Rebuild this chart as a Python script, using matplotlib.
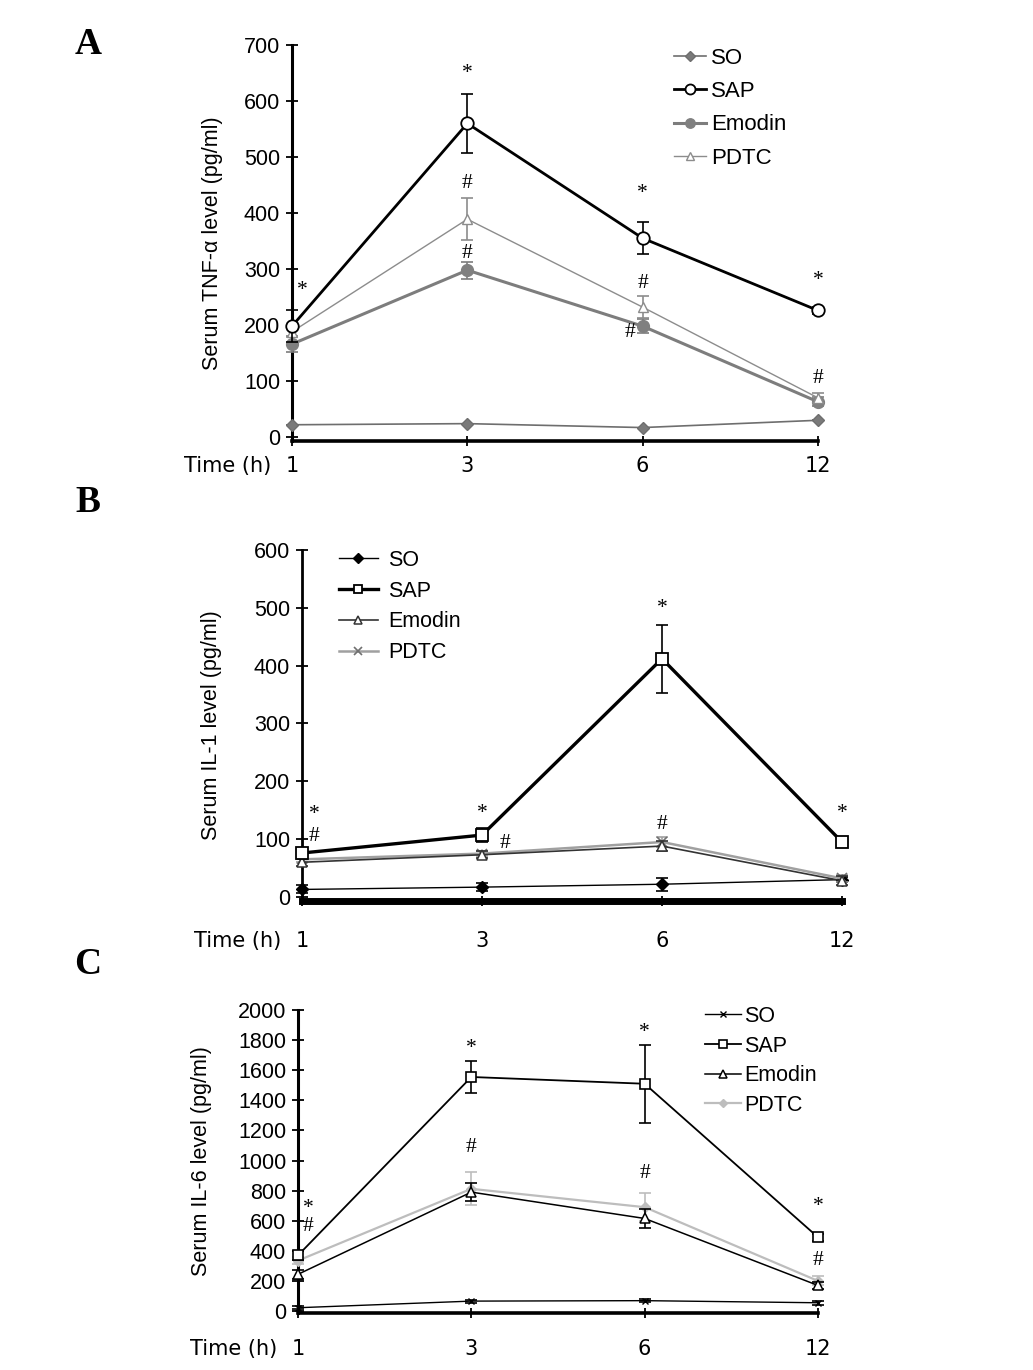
import matplotlib
matplotlib.use("Agg")
import matplotlib.pyplot as plt
from matplotlib.lines import Line2D
import numpy as np

# ---------------- data ----------------
time_labels = ["1", "3", "6", "12"]
series_names = ["SO", "SAP", "Emodin", "PDTC"]

# Panel A: TNF-alpha
tnf_so = [22, 24, 17, 30]
tnf_so_err = [0, 0, 0, 0]
tnf_sap = [198, 560, 355, 226]
tnf_sap_err = [28, 53, 29, 6]
tnf_emodin = [166, 298, 198, 63]
tnf_emodin_err = [14, 15, 12, 8]
tnf_pdtc = [188, 389, 232, 70]
tnf_pdtc_err = [10, 37, 20, 9]

# Panel B: IL-1
il1_so = [13, 17, 22, 30]
il1_so_err = [7, 7, 11, 5]
il1_sap = [76, 107, 412, 95]
il1_sap_err = [5, 12, 59, 4]
il1_emodin = [60, 73, 88, 28]
il1_emodin_err = [6, 6, 8, 8]
il1_pdtc = [65, 75, 95, 32]
il1_pdtc_err = [5, 5, 8, 6]

# Panel C: IL-6
il6_so = [22, 66, 69, 55]
il6_so_err = [10, 10, 12, 12]
il6_sap = [370, 1555, 1510, 490]
il6_sap_err = [30, 105, 260, 25]
il6_emodin = [244, 790, 615, 170]
il6_emodin_err = [30, 60, 65, 25]
il6_pdtc = [335, 812, 690, 200]
il6_pdtc_err = [25, 110, 95, 30]

# significance marks: (x index, y value, text)
tnf_marks = [(0.06, 262, "*"), (1, 650, "*"), (1, 453, "#"), (1, 328, "#"),
             (2, 435, "*"), (2, 275, "#"), (1.925, 186, "#"), (3, 280, "*"), (3, 104, "#")]
il1_marks = [(0.067, 142, "*"), (0.067, 105, "#"), (1, 144, "*"), (1.13, 93, "#"),
             (2, 498, "*"), (2, 125, "#"), (3, 145, "*")]
il6_marks = [(0.06, 680, "*"), (0.06, 561, "#"), (1, 1742, "*"), (1, 1089, "#"),
             (2, 1848, "*"), (2, 911, "#"), (3, 693, "*"), (3, 337, "#")]

tnf_ylabel = "Serum TNF-\u03b1 level (pg/ml)"
il1_ylabel = "Serum IL-1 level (pg/ml)"
il6_ylabel = "Serum IL-6 level (pg/ml)"

# ---------------- figure ----------------
W, H = 1033, 1370
fig = plt.figure(figsize=(W / 100, H / 100), dpi=100)
SANS = ["Liberation Sans", "DejaVu Sans"]
VERD = ["DejaVu Sans"]
SERIF = ["Liberation Serif", "DejaVu Serif"]

def px_axes(left, right, top, bottom):
    return fig.add_axes([left / W, 1 - bottom / H, (right - left) / W, (bottom - top) / H])

def style_axes(ax, ylim, yticks, lw_left, lw_bottom, xlab_pad, ylabel, ylab_x):
    ax.set_xlim(0, 3)
    ax.set_ylim(*ylim)
    ax.set_yticks(yticks)
    ax.set_xticks(range(4))
    ax.set_xticklabels(time_labels, fontsize=15, family=VERD)
    for lab in ax.get_yticklabels():
        lab.set_fontfamily(SANS)
        lab.set_fontsize(15.5)
    ax.spines["top"].set_visible(False)
    ax.spines["right"].set_visible(False)
    ax.spines["left"].set_linewidth(lw_left)
    ax.spines["bottom"].set_linewidth(lw_bottom)
    ax.tick_params(axis="y", direction="inout", length=9, width=1.3, pad=4, colors="black")
    ax.tick_params(axis="x", direction="inout", length=7, width=1.3, pad=xlab_pad)
    ax.set_ylabel(ylabel, fontsize=15.5, family=SANS)
    ax.yaxis.set_label_coords(ylab_x, 0.5)
    ax.annotate("Time (h)", xy=(0, 0), xycoords=ax.get_xticklabels()[0],
                xytext=(-10, 0), textcoords="offset points",
                ha="right", va="bottom", fontsize=15, family=VERD)

def draw(ax, x, y, e, color, lw, marker, ms, mfc, mec, mew, z):
    ax.errorbar(x, y, yerr=e, fmt="none", ecolor=color, elinewidth=1.2,
                capsize=4.5, capthick=1.2, clip_on=False, zorder=z)
    ax.plot(x, y, color=color, lw=lw, marker=marker, ms=ms, mfc=mfc, mec=mec,
            mew=mew, clip_on=False, zorder=z + 0.5)
    return Line2D([], [], color=color, lw=lw, marker=marker, ms=ms * 0.8,
                  mfc=mfc, mec=mec, mew=mew)

def marks(ax, lst, fs=15.5):
    for (xx, yy, t) in lst:
        ax.text(xx, yy, t, ha="center", va="center", fontsize=fs, family=SERIF, zorder=10)

x = np.arange(4)

# ---- Panel A ----
axA = px_axes(292, 818, 45, 441)
h_so = draw(axA, x, tnf_so, tnf_so_err, "#6e6e6e", 1.2, "D", 6, "#7a7a7a", "#6e6e6e", 1, 3)
h_em = draw(axA, x, tnf_emodin, tnf_emodin_err, "#7d7d7d", 2.2, "o", 8.5, "#808080", "#808080", 1, 4)
h_pd = draw(axA, x, tnf_pdtc, tnf_pdtc_err, "#8c8c8c", 1.0, "^", 7, "white", "#8c8c8c", 1, 5)
h_sap = draw(axA, x, tnf_sap, tnf_sap_err, "black", 2.0, "o", 9, "white", "black", 1.3, 6)
style_axes(axA, (-7, 700), range(0, 701, 100), 2.2, 2.6, 7, tnf_ylabel, -0.132)
marks(axA, tnf_marks)
axA.legend([h_so, h_sap, h_em, h_pd], series_names, loc="upper left",
           bbox_to_anchor=(674 / W, 1 - 48 / H), bbox_transform=fig.transFigure,
           frameon=False, prop={"family": SANS, "size": 16},
           handlelength=1.45, handletextpad=0.2, labelspacing=0.55, borderpad=0,
           borderaxespad=0)

# ---- Panel B ----
axB = px_axes(302, 842, 550, 901)
h_so = draw(axB, x, il1_so, il1_so_err, "black", 1.0, "D", 6, "black", "black", 1, 3)
h_pd = draw(axB, x, il1_pdtc, il1_pdtc_err, "#a0a0a0", 1.8, "x", 7, "none", "#707070", 1.2, 4)
h_em = draw(axB, x, il1_emodin, il1_emodin_err, "#333333", 1.2, "^", 7, "white", "#333333", 1.1, 5)
h_sap = draw(axB, x, il1_sap, il1_sap_err, "black", 2.4, "s", 8, "white", "black", 1.3, 6)
style_axes(axB, (-7, 600), range(0, 601, 100), 2.0, 5.0, 18, il1_ylabel, -0.148)
marks(axB, il1_marks)
axB.legend([h_so, h_sap, h_em, h_pd], series_names, loc="upper left",
           bbox_to_anchor=(339 / W, 1 - 550 / H), bbox_transform=fig.transFigure,
           frameon=False, prop={"family": SANS, "size": 15.5},
           handlelength=1.8, handletextpad=0.5, labelspacing=0.45, borderpad=0,
           borderaxespad=0)

# ---- Panel C ----
axC = px_axes(298, 818, 1010, 1313)
h_so = draw(axC, x, il6_so, il6_so_err, "black", 1.0, "x", 5, "none", "black", 1, 3)
h_pd = draw(axC, x, il6_pdtc, il6_pdtc_err, "#bdbdbd", 1.6, "D", 5.5, "#bdbdbd", "#bdbdbd", 1, 4)
h_em = draw(axC, x, il6_emodin, il6_emodin_err, "black", 1.1, "^", 7, "white", "black", 1.1, 5)
h_sap = draw(axC, x, il6_sap, il6_sap_err, "black", 1.3, "s", 7.5, "white", "black", 1.2, 6)
style_axes(axC, (-13, 2000), range(0, 2001, 200), 2.2, 2.6, 15, il6_ylabel, -0.165)
marks(axC, il6_marks)
axC.legend([h_so, h_sap, h_em, h_pd], series_names, loc="upper left",
           bbox_to_anchor=(705 / W, 1 - 1006 / H), bbox_transform=fig.transFigure,
           frameon=False, prop={"family": SANS, "size": 15.5},
           handlelength=1.65, handletextpad=0.15, labelspacing=0.4, borderpad=0,
           borderaxespad=0)

# panel letters
for letter, ypx in (("A", 45), ("B", 503), ("C", 965)):
    fig.text(88 / W, 1 - ypx / H, letter, ha="center", va="center",
             fontsize=27, fontweight="bold", family=SERIF)

fig.savefig("out.png", dpi=100)
